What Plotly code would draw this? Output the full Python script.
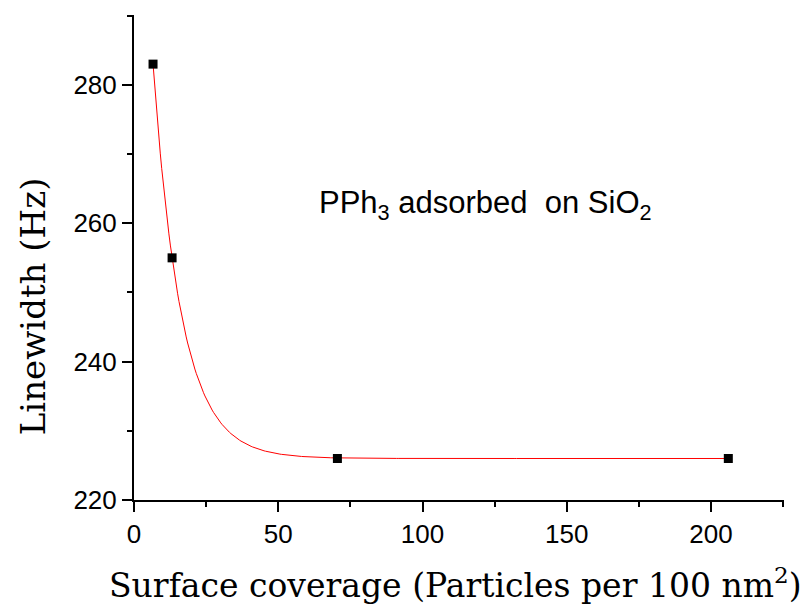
import numpy as np
import plotly.graph_objects as go

# Measured linewidths vs. surface coverage
coverage = [6.6, 13.2, 70.5, 206.0]        # particles per 100 nm^2
linewidth = [283.0, 255.0, 226.0, 226.0]   # Hz

# Exponential-decay fit  y = y0 + A*exp(-x/t)
x_arr = np.array(coverage)
y_arr = np.array(linewidth)
y0 = y_arr[2:].mean()
t = (x_arr[1] - x_arr[0]) / np.log((y_arr[0] - y0) / (y_arr[1] - y0))
A = (y_arr[0] - y0) * np.exp(x_arr[0] / t)
x_fit = np.linspace(x_arr[0], x_arr[-1], 400)
y_fit = y0 + A * np.exp(-x_fit / t)

fig = go.Figure()
fig.add_trace(go.Scatter(x=x_fit, y=y_fit, mode="lines",
                         line=dict(color="#ff0000", width=1), showlegend=False,
                         hoverinfo="skip"))
fig.add_trace(go.Scatter(x=coverage, y=linewidth, mode="markers",
                         marker=dict(symbol="square", size=9, color="black"),
                         showlegend=False))

tick_font = dict(family="Liberation Sans, Arial, sans-serif", size=26, color="black")
serif = "DejaVu Serif, Liberation Serif, serif"

fig.update_xaxes(range=[0, 225.3], showline=True, linecolor="black", linewidth=2,
                 ticks="outside", ticklen=10, tickwidth=2, tickcolor="black",
                 dtick=50, tick0=0, showgrid=False, zeroline=False,
                 tickfont=tick_font,
                 minor=dict(ticks="outside", ticklen=5, tickwidth=2,
                            tickcolor="black", dtick=25, showgrid=False))
fig.update_yaxes(range=[220, 290.1], showline=True, linecolor="black", linewidth=2,
                 ticks="outside", ticklen=10, tickwidth=2, tickcolor="black",
                 dtick=20, tick0=220, showgrid=False, zeroline=False,
                 tickfont=tick_font,
                 minor=dict(ticks="outside", ticklen=5, tickwidth=2,
                            tickcolor="black", dtick=10, showgrid=False))

fig.update_layout(
    width=812, height=609,
    margin=dict(l=134, r=28, t=15, b=109),
    plot_bgcolor="white", paper_bgcolor="white",
    annotations=[
        dict(text="PPh<sub>3</sub> adsorbed  on SiO<sub>2</sub>",
             x=121.7, y=262.6, xref="x", yref="y", showarrow=False,
             font=dict(family="Liberation Sans, Arial, sans-serif", size=31,
                       color="black")),
        dict(text="Surface coverage (Particles per 100 nm<sup>2</sup>)",
             x=0.494, y=-0.172, xref="paper", yref="paper", showarrow=False,
             xanchor="center", yanchor="middle",
             font=dict(family=serif, size=33, color="black")),
        dict(text="Linewidth (Hz)", textangle=-90,
             x=-0.155, y=0.4, xref="paper", yref="paper", showarrow=False,
             xanchor="center", yanchor="middle",
             font=dict(family=serif, size=34, color="black")),
    ],
)

fig.write_html("out.html")
